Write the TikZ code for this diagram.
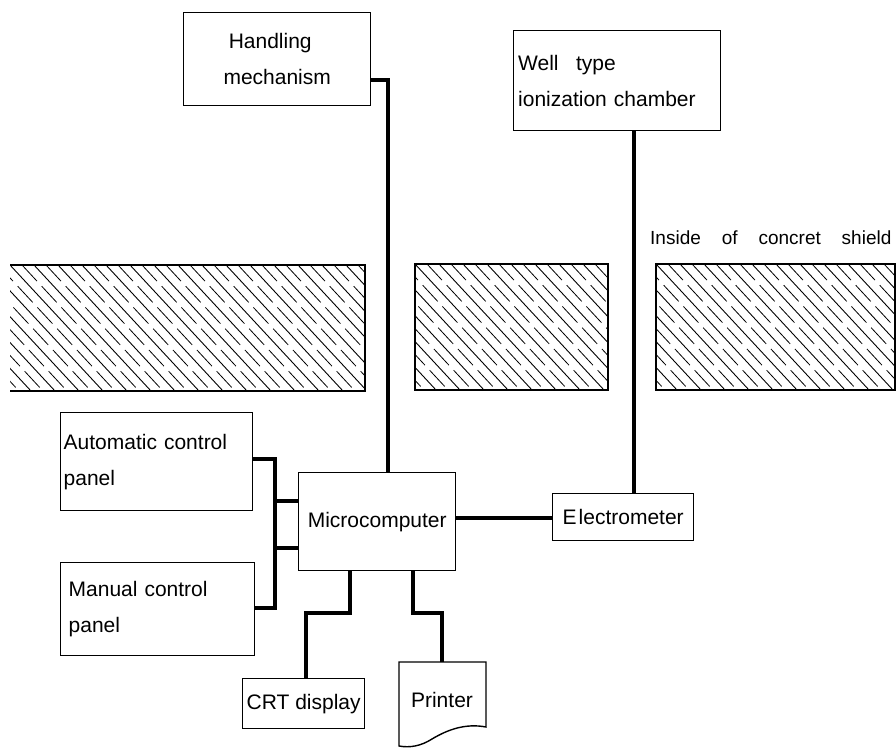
\documentclass[tikz,border=0pt]{standalone}
\usepackage{fontspec}
\setmainfont{Liberation Sans}
\newcommand\hatchblock[4]{%
  \begin{scope}
    \clip (#1,#2) rectangle (#3,#4);
    \foreach \c in {-144,-120,...,560} {\draw[hatchsolid] (#1+\c,#2) -- ++(130,140);}
    \foreach \c in {-132,-108,...,560} {\draw[hatchbroken] (#1+\c,#2) -- ++(130,140);}
  \end{scope}}
\begin{document}
\begin{tikzpicture}[x=1pt,y=-1pt,
  box/.style={draw, line width=1.4pt, inner sep=3pt, anchor=north west,
    font=\fontsize{21}{36}\selectfont},
  conn/.style={line width=3.2pt},
  hatchsolid/.style={line width=0.9pt},
  hatchbroken/.style={line width=0.8pt, dash pattern=on 22pt off 7pt},
  wall/.style={line width=1.8pt},
  lbl/.style={font=\fontsize{19}{22}\selectfont}]
\useasboundingbox (0,0) rectangle (896,749);

% concrete shield blocks
\hatchblock{10}{265}{365}{391}
\hatchblock{415}{264}{608}{390}
\hatchblock{656}{264}{895}{390}
\draw[wall] (10,265) -- (365,265) -- (365,391) -- (10,391);
\draw[wall] (415,264) rectangle (608,390);
\draw[wall] (895,264) -- (656,264) -- (656,390) -- (895,390) -- cycle;

% boxes
\node[box, minimum width=187, minimum height=93, align=center] (hm) at (183,12)
  {\hspace*{-14pt}Handling\\ mechanism};
\node[box, minimum width=207, minimum height=100, align=left, text width=198] (wt) at (513,30)
  {Well\hspace{0.5em} type\\ ionization chamber};
\node[box, minimum width=192, minimum height=98, align=left, text width=186] (ac) at (60,412)
  {Automatic control\\ panel};
\node[box, minimum width=191, minimum height=93, align=left, text width=178, inner xsep=8pt] (mcp) at (60,562)
  {Manual control\\ panel};
\node[box, minimum width=157, minimum height=98] (mc) at (298,472) {Microcomputer};
\node[box, minimum width=141, minimum height=47, inner sep=1pt] (el) at (552,493) {E\kern2pt lectrometer};
\node[box, minimum width=122, minimum height=50, inner sep=1pt] (crt) at (242,678) {CRT display};

% printer (paper shape)
\draw[line width=1.4pt] (399,662) -- (486,662) -- (486,727)
  .. controls (465,723) and (447,730) .. (432,739)
  .. controls (421,746) and (410,748) .. (399,746) -- cycle;
\node[font=\fontsize{21}{25}\selectfont, inner sep=0pt] (prn) at (442,700) {Printer};
\coordinate (prntop) at (442,662);

% label
\node[lbl, anchor=base west, inner sep=0pt] (shield) at (650,244)
  {Inside\hspace{1.1em}of\hspace{1.1em}concret\hspace{1.1em}shield};

% connectors
\draw[conn] (hm.east |- 0,80) -| (388,0 |- mc.north);
\draw[conn] (634,0 |- wt.south) -- (634,0 |- el.north);
\draw[conn] (mc.east |- 0,518) -- (el.west |- 0,518);
\draw[conn] (ac.east |- 0,459) -- (275,459) -- (275,608) -- (mcp.east |- 0,608);
\draw[conn] (275,501) -- (mc.west |- 0,501);
\draw[conn] (275,548) -- (mc.west |- 0,548);
\draw[conn] (350,0 |- mc.south) -- (350,613) -- (306,613) -- (306,0 |- crt.north);
\draw[conn] (413,0 |- mc.south) -- (413,613) -- (442,613) -- (prntop);
\end{tikzpicture}
\end{document}
